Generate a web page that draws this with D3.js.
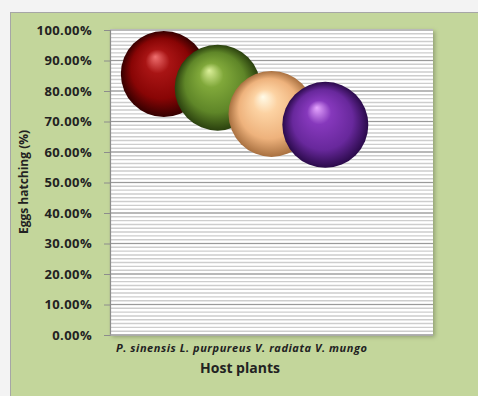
<!DOCTYPE html>
<html>
<head>
<meta charset="utf-8">
<script src="https://cdn.jsdelivr.net/npm/d3@7"></script>
<style>
  html, body { margin: 0; padding: 0; background: #f3f3f3; }
  svg { display: block; }
</style>
</head>
<body>
<svg id="chart" width="478" height="396"></svg>
<script>
// Egg hatching rate per host plant (bubble chart)
const categories = ["P. sinensis", "L. purpureus", "V. radiata", "V. mungo"];
const hatching = [0.856, 0.811, 0.725, 0.689];
const bubbleSize = [1, 1, 1, 1];
const yTicks = [0, 0.1, 0.2, 0.3, 0.4, 0.5, 0.6, 0.7, 0.8, 0.9, 1.0];
const palette = [
  { hi: "#f07070", mid: "#a81414", base: "#880505", edge: "#340000" },
  { hi: "#dcf09a", mid: "#80a83a", base: "#5f8628", edge: "#2a400e" },
  { hi: "#fffbe8", mid: "#fcd2a2", base: "#eeb27c", edge: "#a87040" },
  { hi: "#e6a6ff", mid: "#8638bc", base: "#68289c", edge: "#2a0a4a" }
];

const svg = d3.select("#chart");
const defs = svg.append("defs");

// chart panel
svg.append("rect")
  .attr("x", 10.5).attr("y", 12.5)
  .attr("width", 480).attr("height", 400)
  .attr("fill", "#c3d69b")
  .attr("stroke", "#a6a6a6").attr("stroke-width", 1);

const plot = { left: 110, right: 433, top: 30, bottom: 335 };

const x = d3.scaleLinear().domain([0, 6]).range([plot.left, plot.right]);
const y = d3.scaleLinear().domain([0, 1]).range([plot.bottom, plot.top]);
const r = d3.scaleSqrt().domain([0, 1]).range([0, 43]);

// plot area shadow + background
const shadow = defs.append("filter").attr("id", "plotShadow")
  .attr("x", "-10%").attr("y", "-10%").attr("width", "130%").attr("height", "130%");
shadow.append("feDropShadow")
  .attr("dx", 2).attr("dy", 2).attr("stdDeviation", 2)
  .attr("flood-color", "#000").attr("flood-opacity", 0.25);

svg.append("rect")
  .attr("x", plot.left).attr("y", plot.top - 1)
  .attr("width", plot.right - plot.left).attr("height", plot.bottom - plot.top + 1)
  .attr("fill", "#ffffff")
  .attr("filter", "url(#plotShadow)");

// minor gridlines
const minor = d3.range(0, 1.0001, 0.0125);
svg.append("g").selectAll("line").data(minor).join("line")
  .attr("x1", plot.left).attr("x2", plot.right)
  .attr("y1", d => y(d)).attr("y2", d => y(d))
  .attr("stroke", "#cdcdcd").attr("stroke-width", 1.4);

// major gridlines
svg.append("g").selectAll("line").data(yTicks).join("line")
  .attr("x1", plot.left).attr("x2", plot.right)
  .attr("y1", d => y(d)).attr("y2", d => y(d))
  .attr("stroke", "#9a9a9a").attr("stroke-width", 1.2);

// y axis
const yAxis = svg.append("g")
  .attr("transform", `translate(${plot.left},0)`)
  .call(d3.axisLeft(y).tickValues(yTicks).tickFormat(d3.format(".2%"))
    .tickSize(6).tickPadding(12));
yAxis.select(".domain").attr("stroke", "#8c8c8c").attr("stroke-width", 1.2);
yAxis.selectAll(".tick line").attr("stroke", "#8c8c8c");
yAxis.selectAll(".tick text")
  .attr("fill", "#222")
  .style("font-family", "'Open Sans', sans-serif")
  .style("font-weight", "700")
  .style("font-size", "13px")
  .style("letter-spacing", "0.4px");

// bottom edge
svg.append("line")
  .attr("x1", plot.left).attr("x2", plot.right)
  .attr("y1", plot.bottom).attr("y2", plot.bottom)
  .attr("stroke", "#a8a8a8").attr("stroke-width", 1.2);

// sphere gradients
palette.forEach((c, i) => {
  const g = defs.append("radialGradient").attr("id", "sphere" + i)
    .attr("cx", "50%").attr("cy", "50%").attr("r", "50%")
    .attr("fx", "40%").attr("fy", "30%");
  g.append("stop").attr("offset", "0%").attr("stop-color", c.hi);
  g.append("stop").attr("offset", "28%").attr("stop-color", c.mid);
  g.append("stop").attr("offset", "70%").attr("stop-color", c.base);
  g.append("stop").attr("offset", "100%").attr("stop-color", c.edge);
});

const bubbles = categories.map((name, i) => ({
  name, value: hatching[i], size: bubbleSize[i], idx: i
}));

svg.append("g").selectAll("circle").data(bubbles).join("circle")
  .attr("cx", d => x(d.idx + 1))
  .attr("cy", d => y(d.value))
  .attr("r", d => r(d.size))
  .attr("fill", d => `url(#sphere${d.idx})`);

// category labels
svg.append("text")
  .attr("x", 116).attr("y", 352)
  .attr("fill", "#222")
  .style("font-family", "'Open Sans', sans-serif")
  .style("font-weight", "700")
  .style("font-style", "italic")
  .style("font-size", "11px")
  .style("letter-spacing", "0.55px")
  .text(categories.join(" "));

// axis titles
svg.append("text")
  .attr("x", 240).attr("y", 373)
  .attr("text-anchor", "middle")
  .attr("fill", "#222")
  .style("font-family", "'Open Sans', sans-serif")
  .style("font-weight", "700")
  .style("font-size", "14px")
  .text("Host plants");

svg.append("text")
  .attr("transform", "translate(28,182) rotate(-90)")
  .attr("text-anchor", "middle")
  .attr("fill", "#222")
  .style("font-family", "'Open Sans', sans-serif")
  .style("font-weight", "700")
  .style("font-size", "12px")
  .text("Eggs hatching (%)");
</script>
</body>
</html>
